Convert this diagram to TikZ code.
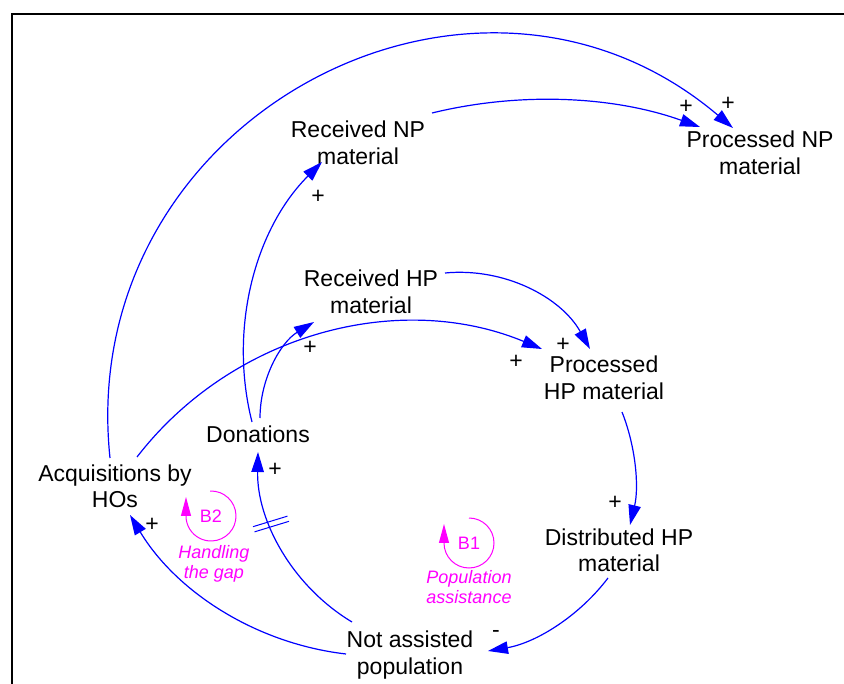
\documentclass[tikz,border=0pt]{standalone}
\usepackage{fontspec}
\setmainfont{Liberation Sans}
\usetikzlibrary{arrows.meta,calc}
\definecolor{cblue}{RGB}{0,0,255}
\definecolor{cmag}{RGB}{255,0,255}
\begin{document}
\begin{tikzpicture}[x=1pt,y=1pt,
 var/.style={align=center,anchor=base,inner sep=0pt,font=\fontsize{23}{27}\selectfont},
 sign/.style={inner sep=0pt,font=\fontsize{23}{27}\selectfont},
 link/.style={draw=cblue,line width=1.2pt,-{Triangle[length=20pt,width=12.5pt]}},
 delaymark/.style={draw=cblue,line width=1pt},
 looparrow/.style={draw=cmag,line width=1pt,-{Triangle[length=19pt,width=10pt]}},
 looplabel/.style={text=cmag,inner sep=0pt,font=\fontsize{18}{20}\selectfont},
 loopname/.style={text=cmag,align=center,anchor=base,inner sep=0pt,font=\fontsize{18}{19.5}\selectfont\itshape},
 frame/.style={draw=black,line width=2pt}]
\useasboundingbox (0,0) rectangle (844,-684);
\draw[frame] (12,-684) -- (12,-14) -- (844,-14);

% variables (anchor base = baseline of last line)
\node[var] (recnp)  at (358,-165) {Received NP\\material};
\node[var] (procnp) at (760,-175) {Processed NP\\material};
\node[var] (rechp)  at (371,-314) {Received HP\\material};
\node[var] (prochp) at (604,-400) {Processed\\HP material};
\node[var] (disthp) at (619,-572) {Distributed HP\\material};
\node[var] (don)    at (258,-443) {Donations};
\node[var] (acq)    at (115,-508) {Acquisitions by\\HOs};
\node[var] (notas)  at (410,-674) {Not assisted\\population};

% links
\draw[link] ($(acq.base)+(-5,50)$) to[out=96,in=139.7,looseness=1.24] ($(procnp.base)+(-27,47)$);
\draw[link] ($(recnp.base)+(74,52)$) to[out=13.7,in=160.3,looseness=0.87] ($(procnp.base)+(-60,48)$);
\draw[link] ($(don.base)+(-6,21)$) to[out=104.2,in=225,looseness=0.91] ($(recnp.base)+(-36,3)$);
\draw[link] ($(don.base)+(2,25)$) to[out=89.9,in=211.4,looseness=0.91] ($(rechp.base)+(-57,-8)$);
\draw[link] ($(acq.base)+(22,51)$) to[out=52.3,in=157.5,looseness=0.95] ($(prochp.base)+(-62,51)$);
\draw[link] ($(rechp.base)+(74,41)$) to[out=5.5,in=119.2,looseness=0.93] ($(prochp.base)+(-14,51)$);
\draw[link] ($(prochp.base)+(18,-12)$) to[out=-68.4,in=76.5,looseness=0.87] ($(disthp.base)+(11,47)$);
\draw[link] ($(disthp.base)+(-11,-6)$) to[out=-127.1,in=9.7,looseness=0.88] ($(notas.base)+(78,23)$);
\draw[link] ($(notas.base)+(-58,52)$) to[out=149,in=268.9,looseness=0.91] ($(don.base)+(0,-9)$);
\draw[link] ($(notas.base)+(-64,20)$) to[out=173.4,in=301.1,looseness=0.9] ($(acq.base)+(15,-7)$);

% delay mark
\coordinate (dly) at (271,-524);
\draw[delaymark] ($(dly)+(107:2.7)+(197:18)$) -- ($(dly)+(107:2.7)+(17:18)$);
\draw[delaymark] ($(dly)+(-73:2.7)+(197:18)$) -- ($(dly)+(-73:2.7)+(17:18)$);

% polarities
\node[sign] (s1) at (728,-104) {+};
\node[sign] (s2) at (686,-107) {+};
\node[sign] (s3) at (318,-197) {+};
\node[sign] (s4) at (310,-348) {+};
\node[sign] (s5) at (516,-362) {+};
\node[sign] (s6) at (563,-345) {+};
\node[sign] (s7) at (615,-503) {+};
\node[sign] (s8) at (496,-634) {-};
\node[sign] (s9) at (275,-470) {+};
\node[sign] (s10) at (152,-525) {+};

% loops
\node[looplabel] (b2) at (211,-516) {B2};
\draw[looparrow] ($(b2)+(92:25)$) arc[start angle=92,end angle=-180,radius=25] -- ++(0,19);
\node[loopname] (l2) at (214,-578) {Handling\\the gap};
\node[looplabel] (b1) at (469,-543) {B1};
\draw[looparrow] ($(b1)+(90:25)$) arc[start angle=90,end angle=-180,radius=25] -- ++(0,19);
\node[loopname] (l1) at (469,-603) {Population\\assistance};
\end{tikzpicture}
\end{document}
